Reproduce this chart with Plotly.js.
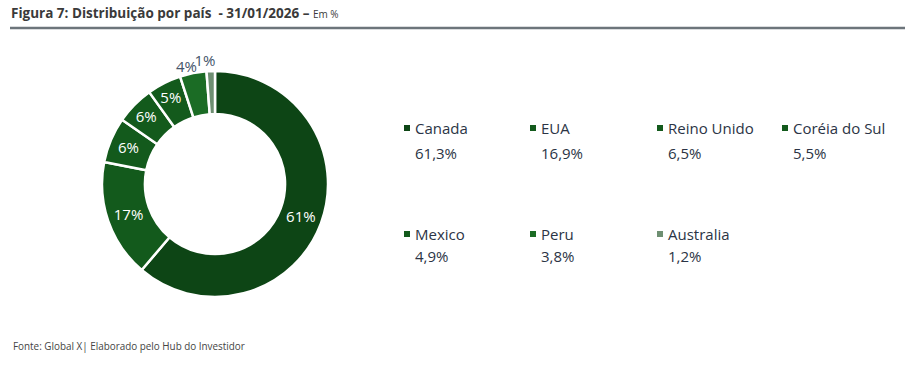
<!DOCTYPE html>
<html>
<head>
<meta charset="utf-8">
<script src="https://cdn.plot.ly/plotly-3.0.1.min.js"></script>
<style>
html,body{margin:0;padding:0;background:#fff;}
#chart{width:922px;height:367px;}
</style>
</head>
<body>
<div id="chart"></div>
<script>
// ---- data ----
var countries = ["Canada", "EUA", "Reino Unido", "Coréia do Sul", "Mexico", "Peru", "Australia"];
var shares = [61.3, 16.9, 6.5, 5.5, 4.9, 3.8, 1.2];
var shareLabels = ["61,3%", "16,9%", "6,5%", "5,5%", "4,9%", "3,8%", "1,2%"];
var sliceLabels = ["61%", "17%", "6%", "6%", "5%", "4%", "1%"];
var colors = ["#0d4515", "#135a1c", "#135a1c", "#135a1c", "#135a1c", "#1b6c25", "#6e8f72"];
var labelOutside = [false, false, false, false, false, true, true];

var W = 922, H = 367;
function px(x) { return x / W; }
function py(y) { return 1 - y / H; }

var cx = 215, cy = 184, R = 113, R2 = 129;

var innerText = sliceLabels.map(function (t, i) { return labelOutside[i] ? "" : t; });
var outerText = sliceLabels.map(function (t, i) { return labelOutside[i] ? t : ""; });

var trace = {
  type: "pie",
  labels: countries,
  values: shares,
  text: innerText,
  textinfo: "text",
  textposition: "inside",
  insidetextorientation: "horizontal",
  sort: false,
  direction: "clockwise",
  rotation: 0,
  hole: 0.62,
  marker: { colors: colors, line: { color: "#ffffff", width: 2.5 } },
  insidetextfont: { color: "#ffffff", family: "Open Sans", size: 15 },
  domain: { x: [px(cx - R), px(cx + R)], y: [py(cy + R), py(cy - R)] },
  showlegend: false,
  hoverinfo: "label+value"
};

// transparent outer ring that only carries the labels of the small slices
var labelRing = {
  type: "pie",
  labels: countries,
  values: shares,
  text: outerText,
  textinfo: "text",
  textposition: "inside",
  insidetextorientation: "horizontal",
  sort: false,
  direction: "clockwise",
  rotation: -2.5,
  hole: 113 / R2,
  marker: { colors: countries.map(function () { return "rgba(0,0,0,0)"; }), line: { width: 0 } },
  insidetextfont: { color: "#44546a", family: "Open Sans", size: 15 },
  domain: { x: [px(cx - R2), px(cx + R2)], y: [py(cy + R2), py(cy - R2)] },
  showlegend: false,
  hoverinfo: "skip"
};

var annotations = [];
var shapes = [];

// title
annotations.push({
  xref: "paper", yref: "paper", x: px(9), y: py(13), xanchor: "left", yanchor: "middle",
  showarrow: false, align: "left",
  text: "<b>Figura 7: Distribuição por país  - 31/01/2026 –</b> <span style='font-size:10px'>Em %</span>",
  font: { family: "Open Sans", size: 13.5, color: "#3a3a3a" }
});
shapes.push({
  type: "line", xref: "paper", yref: "paper",
  x0: px(10), x1: px(905), y0: py(28), y1: py(28),
  line: { color: "#6d757b", width: 2.5 }
});

// footer
annotations.push({
  xref: "paper", yref: "paper", x: px(11), y: py(346), xanchor: "left", yanchor: "middle",
  showarrow: false, text: "Fonte: Global X| Elaborado pelo Hub do Investidor",
  font: { family: "Open Sans", size: 9.9, color: "#444444" }
});

// custom legend
var colX = [404, 530, 657, 782];
var rowY = [128, 234];
var valY = [153, 256];
for (var i = 0; i < countries.length; i++) {
  var c = i % 4, r = Math.floor(i / 4);
  var sx = colX[c];
  shapes.push({
    type: "rect", xref: "paper", yref: "paper",
    x0: px(sx), x1: px(sx + 6), y0: py(rowY[r] + 3), y1: py(rowY[r] - 3),
    fillcolor: colors[i], line: { width: 0 }
  });
  annotations.push({
    xref: "paper", yref: "paper", x: px(sx + 9), y: py(rowY[r]), xanchor: "left", yanchor: "middle",
    showarrow: false, text: countries[i],
    font: { family: "Open Sans", size: 15, color: "#2b3445" }
  });
  annotations.push({
    xref: "paper", yref: "paper", x: px(sx + 9), y: py(valY[r]), xanchor: "left", yanchor: "middle",
    showarrow: false, text: shareLabels[i],
    font: { family: "Open Sans", size: 15, color: "#2b3445" }
  });
}

var layout = {
  width: W, height: H,
  margin: { l: 0, r: 0, t: 0, b: 0 },
  paper_bgcolor: "#ffffff",
  plot_bgcolor: "#ffffff",
  uniformtext: { minsize: 15, mode: "show" },
  annotations: annotations,
  shapes: shapes,
  font: { family: "Open Sans" }
};

Plotly.newPlot("chart", [trace, labelRing], layout, { displayModeBar: false, staticPlot: true });
</script>
</body>
</html>
